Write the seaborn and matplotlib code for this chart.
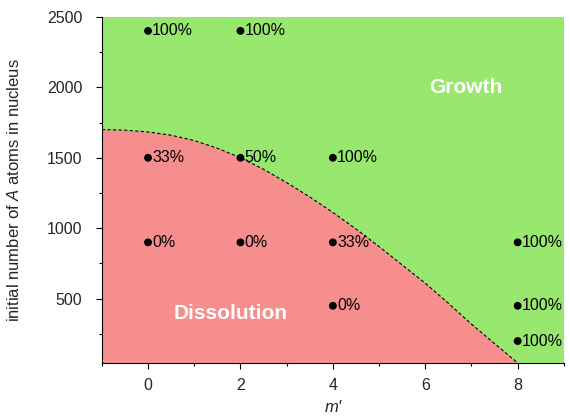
import numpy as np
import pandas as pd
import matplotlib
matplotlib.use("Agg")
import matplotlib.pyplot as plt
from matplotlib.ticker import MultipleLocator
import seaborn as sns

# Simulated runs: m' value, initial nucleus size, fraction of runs that grew
m_prime = [0, 2, 0, 2, 4, 0, 2, 4, 8, 4, 8, 8]
n_atoms = [2400, 2400, 1500, 1500, 1500, 900, 900, 900, 900, 450, 450, 200]
growth_pct = ["100%", "100%", "33%", "50%", "100%", "0%", "0%", "33%", "100%", "0%", "100%", "100%"]

# Growth / dissolution boundary
boundary_m = [-1, -0.5, 0, 0.5, 1, 1.5, 2, 2.5, 3, 3.5, 4, 4.5, 5, 5.5, 6, 6.5, 7, 7.5, 8]
boundary_n = [1700, 1696, 1683, 1660, 1622, 1568, 1500, 1418, 1324, 1222, 1112, 995,
              870, 740, 610, 468, 320, 182, 45]

sns.set_style("ticks")
plt.rcParams["font.family"] = ["Liberation Sans", "DejaVu Sans"]
plt.rcParams["mathtext.fontset"] = "custom"
plt.rcParams["mathtext.rm"] = "Liberation Sans"
plt.rcParams["mathtext.it"] = "Liberation Sans:italic"

GREEN = "#98e870"
RED = "#f68e8e"

fig = plt.figure(figsize=(5.69, 4.2), dpi=100)
ax = fig.add_axes([0.179, 0.136, 0.812, 0.824])
ax.set_facecolor(GREEN)

ymin, ymax = 45, 2500
ax.fill_between(boundary_m, ymin, boundary_n, color=RED, lw=0, zorder=1)
bdf = pd.DataFrame({"m": boundary_m, "n": boundary_n})
sns.lineplot(data=bdf, x="m", y="n", ax=ax, color="black", lw=0.8,
             linestyle=(0, (3, 2)), zorder=2, sort=False)

df = pd.DataFrame({"m": m_prime, "n": n_atoms, "pct": growth_pct})
sns.scatterplot(data=df, x="m", y="n", ax=ax, color="black", s=32,
                edgecolor="none", zorder=4)
for m, n, p in zip(m_prime, n_atoms, growth_pct):
    ax.annotate(p, (m, n), xytext=(3, 0), textcoords="offset points",
                va="center", ha="left", fontsize=11.5, color="black", zorder=5)

ax.text(6.87, 2000, "Growth", color="white", fontsize=15, fontweight="bold",
        ha="center", va="center", zorder=5)
ax.text(1.78, 398, "Dissolution", color="white", fontsize=15, fontweight="bold",
        ha="center", va="center", zorder=5)

ax.set_xlim(-1, 9)
ax.set_ylim(ymin, ymax)
ax.xaxis.set_major_locator(MultipleLocator(2))
ax.xaxis.set_minor_locator(MultipleLocator(1))
ax.set_yticks([500, 1000, 1500, 2000, 2500])
ax.yaxis.set_minor_locator(MultipleLocator(250))
ax.tick_params(axis="both", which="major", direction="out", length=4,
               width=0.8, labelsize=11.5, color="black")
ax.tick_params(axis="x", which="major", pad=7)
ax.tick_params(axis="y", which="major", pad=10)
ax.tick_params(axis="both", which="minor", direction="out", length=2.5,
               width=0.8, color="black")

for side in ("top", "right"):
    ax.spines[side].set_visible(False)
for side in ("left", "bottom"):
    ax.spines[side].set_color("black")
    ax.spines[side].set_linewidth(0.8)

ax.set_xlabel("m'", fontsize=12, fontstyle="italic", labelpad=5)
ax.set_ylabel("initial number of $A$ atoms in nucleus", fontsize=12, labelpad=18)

fig.savefig("out.png", dpi=100)
